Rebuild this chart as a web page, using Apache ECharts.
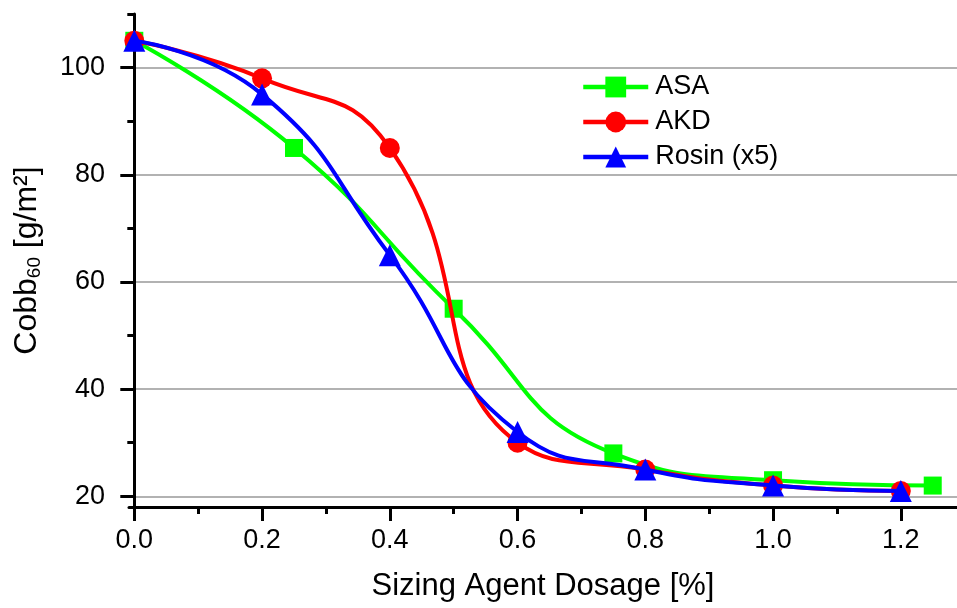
<!DOCTYPE html>
<html>
<head>
<meta charset="utf-8">
<script src="https://cdn.jsdelivr.net/npm/echarts@6/dist/echarts.min.js"></script>
<style>html,body{margin:0;padding:0;background:#fff;}#c{width:957px;height:608px;}</style>
</head>
<body>
<div id="c"></div>
<script>
// ---- data ----
var asaX = [0, 0.25, 0.5, 0.75, 1.0, 1.25];
var asaY = [105, 85, 55, 28, 23, 22];
var akdX = [0, 0.2, 0.4, 0.6, 0.8, 1.0, 1.2];
var akdY = [105, 98, 85, 30, 25, 22, 21];
var rosinX = [0, 0.2, 0.4, 0.6, 0.8, 1.0, 1.2];
var rosinY = [105, 95, 65, 32, 25, 22, 21];
var seriesNames = ['ASA', 'AKD', 'Rosin (x5)'];
var xTicks = [0, 0.2, 0.4, 0.6, 0.8, 1.0, 1.2];
var xMinorTicks = [0.1, 0.3, 0.5, 0.7, 0.9, 1.1];
var yTicks = [20, 40, 60, 80, 100];
var yMinorTicks = [30, 50, 70, 90, 110];

function pairs(xs, ys) { return xs.map(function (x, i) { return [x, ys[i]]; }); }

var FONT = '"Liberation Sans", Arial, sans-serif';
var X_MIN = -0.0083, X_MAX = 1.288, Y_MIN = 18, Y_MAX = 110;

var chart = echarts.init(document.getElementById('c'));
chart.setOption({
  animation: false,
  backgroundColor: '#fff',
  grid: { left: 129, top: 14, right: 0, bottom: 101, containLabel: false },
  legend: {
    orient: 'vertical', left: 581, top: 73, padding: 0,
    itemWidth: 65, itemHeight: 26, itemGap: 7,
    lineStyle: { width: 4.5 },
    textStyle: { fontFamily: FONT, fontSize: 27, color: '#000', lineHeight: 28, padding: [0, 0, 0, 2] },
    data: seriesNames
  },
  xAxis: [{
    type: 'value', min: X_MIN, max: X_MAX,
    name: 'Sizing Agent Dosage [%]', nameLocation: 'middle', nameGap: 64,
    nameTextStyle: { fontFamily: FONT, fontSize: 31, color: '#000' },
    axisLine: { show: true, lineStyle: { color: '#000', width: 3 } },
    axisTick: { show: true, inside: false, length: 14, customValues: xTicks, lineStyle: { color: '#000', width: 3 } },
    axisLabel: { show: true, customValues: xTicks, margin: 20, fontFamily: FONT, fontSize: 27, color: '#000',
      formatter: function (v) { return Number(v).toFixed(1); } },
    splitLine: { show: false }
  }, {
    type: 'value', min: X_MIN, max: X_MAX, position: 'bottom',
    axisLine: { show: false },
    axisTick: { show: true, inside: false, length: 7, customValues: xMinorTicks, lineStyle: { color: '#000', width: 3 } },
    axisLabel: { show: false },
    splitLine: { show: false }
  }],
  yAxis: [{
    type: 'value', min: Y_MIN, max: Y_MAX,
    name: '{a|Cobb}{b|60}{a| [g/m²]}', nameLocation: 'middle', nameGap: 85,
    nameTextStyle: { fontFamily: FONT, color: '#000',
      rich: { a: { fontFamily: FONT, fontSize: 32, color: '#000' },
              b: { fontFamily: FONT, fontSize: 19, color: '#000', verticalAlign: 'bottom', padding: [14, 0, 0, 0] } } },
    axisLine: { show: true, lineStyle: { color: '#000', width: 3 } },
    axisTick: { show: true, inside: false, length: 14, customValues: yTicks, lineStyle: { color: '#000', width: 3 } },
    axisLabel: { show: true, customValues: yTicks, margin: 24, fontFamily: FONT, fontSize: 27, color: '#000' },
    splitLine: { show: true, lineStyle: { color: '#999', width: 1.5 } }
  }, {
    type: 'value', min: Y_MIN, max: Y_MAX, position: 'left',
    axisLine: { show: false },
    axisTick: { show: true, inside: false, length: 7, customValues: yMinorTicks, lineStyle: { color: '#000', width: 3 } },
    axisLabel: { show: false },
    splitLine: { show: false }
  }],
  series: [{
    name: seriesNames[0], type: 'line', smooth: 0.5, data: pairs(asaX, asaY),
    symbol: 'rect', symbolSize: 18,
    itemStyle: { color: '#00ff00' }, lineStyle: { color: '#00ff00', width: 4 }, z: 2
  }, {
    name: seriesNames[1], type: 'line', smooth: 0.5, data: pairs(akdX, akdY),
    symbol: 'circle', symbolSize: 20,
    itemStyle: { color: '#ff0000' }, lineStyle: { color: '#ff0000', width: 4 }, z: 3
  }, {
    name: seriesNames[2], type: 'line', smooth: 0.5, data: pairs(rosinX, rosinY),
    symbol: 'triangle', symbolSize: 22,
    itemStyle: { color: '#0000ff' }, lineStyle: { color: '#0000ff', width: 4 }, z: 4
  }]
});
</script>
</body>
</html>
